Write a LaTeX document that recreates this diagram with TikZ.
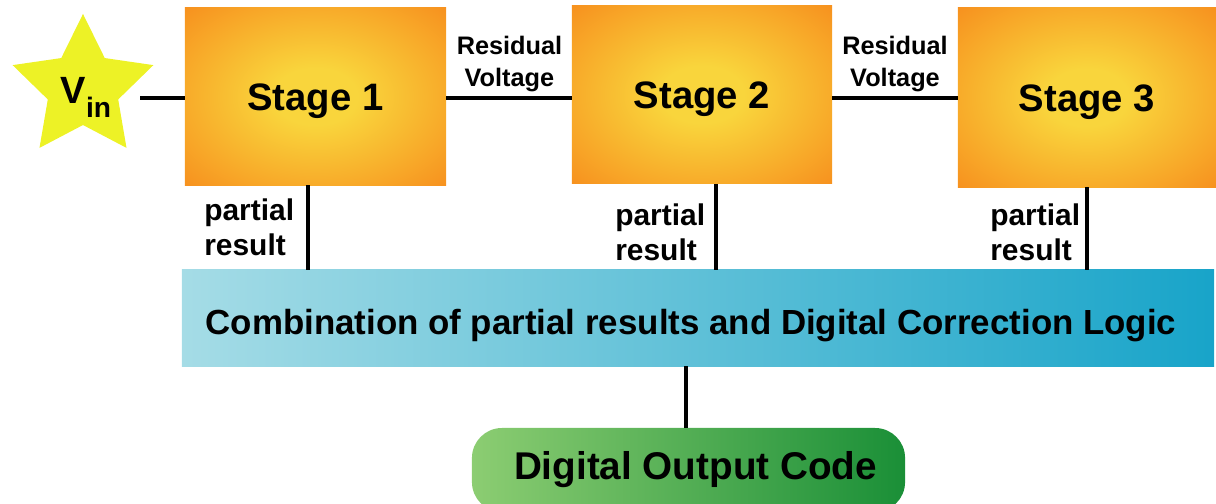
\documentclass[tikz,border=0pt]{standalone}
\usepackage{fontspec}
\setmainfont{Liberation Sans}
\usetikzlibrary{shapes.geometric}
\definecolor{staro}{HTML}{F7901E}
\definecolor{stagey}{HTML}{F9D53C}
\definecolor{staryel}{HTML}{EDF226}
\definecolor{cyl}{HTML}{A5DCE6}
\definecolor{cyr}{HTML}{18A4C9}
\definecolor{grl}{HTML}{8CCD72}
\definecolor{grr}{HTML}{1A8F37}
\pgfdeclareradialshading{stageshade}{\pgfpoint{0bp}{0bp}}{color(0bp)=(stagey); color(8bp)=(stagey); color(36bp)=(staro); color(50bp)=(staro)}
\tikzset{
  stagebox/.style={shading=stageshade, inner sep=0pt, text height=19.5pt, text depth=0pt, font=\fontsize{27.2pt}{30pt}\selectfont\bfseries},
  lbl/.style={inner sep=0pt, font=\fontsize{18pt}{22.8pt}\selectfont\bfseries, align=center},
  plbl/.style={inner sep=0pt, font=\fontsize{21.3pt}{25pt}\selectfont\bfseries, align=left, anchor=west},
  wire/.style={line width=2.6pt, black},
}
\begin{document}
\begin{tikzpicture}[x=0.025cm, y=-0.025cm]
\useasboundingbox (0,0) rectangle (1216,504);
% star
\node[star, star points=5, star point ratio=2, minimum size=3.7cm, fill=staryel, inner sep=0pt] (star) at (83,88) {};
\node[inner sep=0pt, font=\fontsize{27pt}{30pt}\selectfont\bfseries] (vintext) at (86,97) {V\raisebox{-10pt}{\fontsize{20pt}{22pt}\selectfont in}};
% stages
\node[stagebox, minimum width=6.525cm, minimum height=4.425cm] (stage1) at (315.5,96.5) {Stage 1};
\node[stagebox, minimum width=6.5cm, minimum height=4.45cm] (stage2) at (702,94.5) {Stage 2};
\node[stagebox, minimum width=6.45cm, minimum height=4.475cm] (stage3) at (1087,97.5) {Stage 3};
% combination
\node[left color=cyl, right color=cyr, inner sep=0pt, minimum width=25.8cm, minimum height=2.4cm, text height=23.5pt, text depth=0pt,
      font=\fontsize{24.8pt}{28pt}\selectfont\bfseries] (comb) at (698,318) {\hspace*{-10pt}Combination of partial results and Digital Correction Logic};
% output
\node[left color=grl, right color=grr, rounded corners=0.75cm, inner sep=0pt, minimum width=10.825cm, minimum height=2.1cm,
      font=\fontsize{27.5pt}{30pt}\selectfont\bfseries] (out) at (688.5,470) {Digital Output Code\hspace*{-10pt}};
% labels
\node[lbl] (res1) at (509.5,64) {Residual\\Voltage};
\node[lbl] (res2) at (895,64) {Residual\\Voltage};
\node[plbl] (pr1) at (204,227) {partial\\result};
\node[plbl] (pr2) at (615,232) {partial\\result};
\node[plbl] (pr3) at (990,232) {partial\\result};
% connectors
\coordinate (vinend) at (140,98);
\coordinate (h) at (0,98);
\coordinate (p1) at (308,0);
\coordinate (p2) at (716,0);
\coordinate (p3) at (1087,0);
\coordinate (p4) at (686,0);
\draw[line width=3pt] (vinend) -- (stage1.west |- h);
\draw[wire] (stage1.east |- h) -- (stage2.west |- h);
\draw[wire] (stage2.east |- h) -- (stage3.west |- h);
\draw[wire] (p1 |- stage1.south) -- (p1 |- comb.north);
\draw[wire] (p2 |- stage2.south) -- (p2 |- comb.north);
\draw[wire] (p3 |- stage3.south) -- (p3 |- comb.north);
\draw[wire] (p4 |- comb.south) -- (p4 |- out.north);
\end{tikzpicture}
\end{document}
